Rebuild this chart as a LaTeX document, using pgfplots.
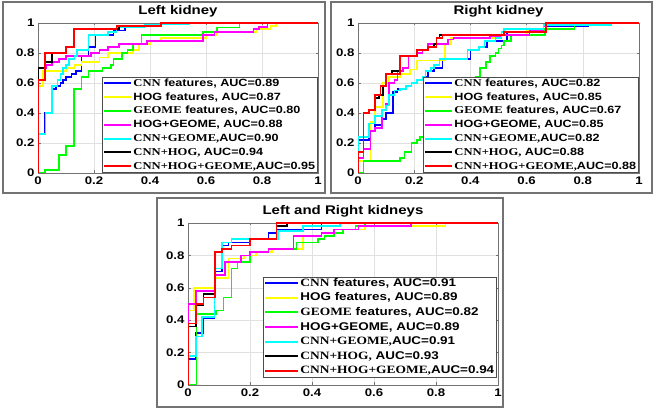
\documentclass[border=0pt]{standalone}
\usepackage{fontspec}
\setmainfont{Liberation Sans}[FakeStretch=1.2]
\newfontfamily\tnr{Liberation Serif}[FakeStretch=1.2]
\usepackage{pgfplots}
\pgfplotsset{compat=1.18}

\definecolor{mblue}{rgb}{0,0,1}
\definecolor{myellow}{rgb}{1,1,0}
\definecolor{mgreen}{rgb}{0,1,0}
\definecolor{mmagenta}{rgb}{1,0,1}
\definecolor{mcyan}{rgb}{0,1,1}
\definecolor{mred}{rgb}{1,0,0}

\pgfplotsset{
  roc/.style={
    scale only axis, anchor=south west,
    xmin=0, xmax=1, ymin=0, ymax=1,
    xtick={0,0.2,0.4,0.6,0.8,1}, ytick={0,0.2,0.4,0.6,0.8,1},
    grid=major, grid style={black!12, line width=0.4pt},
    axis line style={black!55, line width=0.5pt},
    tick style={black!55, line width=0.4pt},
    tick align=inside, major tick length=2.5pt,
    /pgf/number format/assume math mode=true,
    ticklabel style={font=\bfseries\fontsize{11}{12}\selectfont},
    title style={at={(0.5,1)}, anchor=base, yshift=2.5pt, inner sep=0pt,
      font=\bfseries\fontsize{12.5}{14}\selectfont},
    every axis plot/.append style={const plot, line width=1.6pt, mark=none},
    legend cell align=left,
    legend style={at={(1,0)}, anchor=south east, draw=black!70, line width=0.7pt,
      fill=white, inner sep=1pt, row sep=3.4pt,
      font=\bfseries\fontsize{10.5}{12}\selectfont,
      nodes={inner ysep=0pt, inner xsep=1.5pt, text height=7.8pt, text depth=2.6pt}},
    legend image code/.code={\draw[#1, line width=2pt] (0pt,0.3pt) -- (27pt,0.3pt);},
  }
}

\begin{document}
\begin{tikzpicture}
\useasboundingbox (0pt,0pt) rectangle (656pt,411pt);
\fill[white] (0pt,0pt) rectangle (656pt,411pt);
\draw[black!55, line width=2pt] (3pt,218pt) rectangle (325pt,409pt);
\draw[black!55, line width=2pt] (331pt,218pt) rectangle (652pt,409pt);
\draw[black!55, line width=2pt] (157pt,4pt) rectangle (503pt,213pt);

% ---------------- Left kidney
\begin{axis}[roc, at={(38pt,238pt)}, width=280pt, height=150pt, title={Left kidney}]
\addplot[mblue] coordinates {(0,0) (0,0.26) (0.024,0.40) (0.05,0.56) (0.065,0.58) (0.08,0.60) (0.09,0.62) (0.10,0.64) (0.12,0.66) (0.135,0.68) (0.155,0.78) (0.18,0.84) (0.205,0.92) (0.27,0.95) (0.31,0.98) (0.44,1) (1,1)};
\addlegendentry{{\tnr CNN} features, AUC=0.89}
\addplot[myellow] coordinates {(0,0) (0,0.58) (0.018,0.68) (0.10,0.70) (0.13,0.72) (0.155,0.74) (0.22,0.77) (0.25,0.80) (0.34,0.82) (0.36,0.86) (0.40,0.88) (0.44,0.90) (0.60,0.92) (0.64,0.94) (0.78,0.96) (0.83,0.98) (0.85,1) (1,1)};
\addlegendentry{HOG features, AUC=0.87}
\addplot[mgreen] coordinates {(0,0) (0.025,0.02) (0.076,0.12) (0.10,0.18) (0.128,0.56) (0.156,0.64) (0.18,0.68) (0.23,0.70) (0.26,0.72) (0.27,0.76) (0.30,0.80) (0.32,0.82) (0.34,0.86) (0.37,0.92) (0.59,0.94) (0.64,0.97) (0.72,1) (1,1)};
\addlegendentry{{\tnr GEOME} features, AUC=0.80}
\addplot[mmagenta] coordinates {(0,0) (0,0.70) (0.03,0.72) (0.05,0.74) (0.075,0.76) (0.10,0.78) (0.19,0.80) (0.22,0.82) (0.25,0.84) (0.29,0.86) (0.39,0.88) (0.59,0.92) (0.63,0.94) (0.77,0.96) (0.79,0.975) (0.82,1) (1,1)};
\addlegendentry{HOG+GEOME, AUC=0.88}
\addplot[mcyan] coordinates {(0,0) (0,0.26) (0.027,0.40) (0.05,0.58) (0.07,0.62) (0.08,0.66) (0.09,0.70) (0.10,0.72) (0.11,0.76) (0.13,0.78) (0.14,0.82) (0.18,0.92) (0.25,0.94) (0.28,0.97) (0.38,0.99) (0.54,1) (1,1)};
\addlegendentry{{\tnr CNN+GEOME,}AUC=0.90}
\addplot[black] coordinates {(0,0) (0,0.70) (0.024,0.74) (0.05,0.80) (0.10,0.84) (0.128,0.96) (0.29,0.98) (0.44,1) (1,1)};
\addlegendentry{{\tnr CNN+HOG,} AUC=0.94}
\addplot[mred] coordinates {(0,0) (0,0.62) (0.024,0.80) (0.10,0.84) (0.128,0.96) (0.28,0.98) (0.44,1) (1,1)};
\addlegendentry{{\tnr CNN+HOG+GEOME,}AUC=0.95}
\end{axis}

% ---------------- Right kidney
\begin{axis}[roc, at={(358pt,238pt)}, width=281pt, height=150pt, title={Right kidney}]
\addplot[mblue] coordinates {(0,0) (0,0.22) (0.04,0.28) (0.06,0.32) (0.085,0.36) (0.10,0.40) (0.125,0.54) (0.14,0.56) (0.17,0.58) (0.19,0.60) (0.21,0.62) (0.23,0.64) (0.25,0.68) (0.27,0.70) (0.30,0.76) (0.40,0.82) (0.43,0.84) (0.46,0.88) (0.53,0.94) (0.66,0.98) (0.82,1) (1,1)};
\addlegendentry{{\tnr CNN} features, AUC=0.82}
\addplot[myellow] coordinates {(0,0) (0,0.08) (0.045,0.34) (0.06,0.44) (0.09,0.60) (0.11,0.64) (0.15,0.66) (0.185,0.69) (0.21,0.75) (0.31,0.86) (0.33,0.90) (0.50,0.92) (0.60,0.95) (0.66,0.98) (0.67,1) (1,1)};
\addlegendentry{HOG features, AUC=0.85}
\addplot[mgreen] coordinates {(0,0) (0.02,0.08) (0.15,0.10) (0.165,0.14) (0.19,0.20) (0.21,0.22) (0.22,0.24) (0.26,0.30) (0.30,0.36) (0.34,0.44) (0.38,0.52) (0.41,0.60) (0.42,0.64) (0.435,0.70) (0.455,0.74) (0.47,0.78) (0.49,0.80) (0.50,0.83) (0.51,0.85) (0.52,0.88) (0.545,0.92) (0.665,0.96) (0.77,0.99) (0.80,1) (1,1)};
\addlegendentry{{\tnr GEOME} features, AUC=0.67}
\addplot[mmagenta] coordinates {(0,0) (0,0.10) (0.02,0.16) (0.045,0.28) (0.06,0.30) (0.085,0.42) (0.10,0.46) (0.11,0.60) (0.13,0.62) (0.14,0.68) (0.16,0.70) (0.18,0.78) (0.21,0.80) (0.23,0.82) (0.25,0.86) (0.32,0.89) (0.34,0.90) (0.47,0.91) (0.51,0.92) (0.61,0.95) (0.66,0.98) (0.67,1) (1,1)};
\addlegendentry{HOG+GEOME, AUC=0.85}
\addplot[mcyan] coordinates {(0,0) (0,0.24) (0.04,0.33) (0.06,0.38) (0.085,0.42) (0.10,0.45) (0.11,0.52) (0.13,0.55) (0.15,0.56) (0.17,0.58) (0.19,0.60) (0.21,0.62) (0.23,0.64) (0.24,0.68) (0.26,0.70) (0.27,0.72) (0.29,0.76) (0.39,0.82) (0.43,0.84) (0.45,0.88) (0.49,0.90) (0.51,0.94) (0.52,0.96) (0.66,0.985) (0.90,1) (1,1)};
\addlegendentry{{\tnr CNN+GEOME,}AUC=0.82}
\addplot[black] coordinates {(0,0) (0,0.14) (0.02,0.40) (0.04,0.42) (0.06,0.50) (0.075,0.52) (0.09,0.58) (0.10,0.66) (0.12,0.68) (0.15,0.78) (0.21,0.82) (0.25,0.84) (0.27,0.86) (0.28,0.90) (0.29,0.92) (0.52,0.94) (0.67,1) (1,1)};
\addlegendentry{{\tnr CNN+HOG,} AUC=0.88}
\addplot[mred] coordinates {(0,0) (0,0.14) (0.02,0.40) (0.04,0.42) (0.06,0.52) (0.08,0.58) (0.10,0.66) (0.15,0.78) (0.21,0.82) (0.25,0.84) (0.28,0.90) (0.30,0.92) (0.52,0.94) (0.67,1) (1,1)};
\addlegendentry{{\tnr CNN+HOG+GEOME,}AUC=0.88}
\end{axis}

% ---------------- Left and Right kidneys
\begin{axis}[roc, at={(188pt,26pt)}, width=310pt, height=162pt, title={Left and Right kidneys},
  legend style={at={(0.997,0.043)}, row sep=3.6pt, font=\bfseries\fontsize{11.2}{12}\selectfont,
    nodes={text height=8.2pt, text depth=2.8pt}},
  legend image code/.code={\draw[#1, line width=2pt] (0pt,0.3pt) -- (33pt,0.3pt);}]
\addplot[mblue] coordinates {(0,0) (0,0.16) (0.025,0.32) (0.05,0.41) (0.085,0.70) (0.11,0.86) (0.13,0.88) (0.20,0.90) (0.26,0.94) (0.29,0.96) (0.43,1) (1,1)};
\addlegendentry{{\tnr CNN} features, AUC=0.91}
\addplot[myellow] coordinates {(0,0) (0,0.46) (0.02,0.60) (0.085,0.66) (0.13,0.78) (0.18,0.80) (0.22,0.82) (0.27,0.84) (0.37,0.92) (0.43,0.94) (0.50,0.96) (0.57,0.98) (0.83,1) (1,1)};
\addlegendentry{HOG features, AUC=0.89}
\addplot[mgreen] coordinates {(0,0) (0.028,0.44) (0.09,0.46) (0.115,0.54) (0.14,0.72) (0.16,0.76) (0.20,0.82) (0.26,0.84) (0.35,0.88) (0.42,0.90) (0.44,0.92) (0.47,0.94) (0.50,0.96) (0.54,0.98) (0.57,1) (1,1)};
\addlegendentry{{\tnr GEOME} features, AUC=0.82}
\addplot[mmagenta] coordinates {(0,0) (0,0.50) (0.025,0.58) (0.087,0.68) (0.12,0.76) (0.17,0.80) (0.20,0.82) (0.26,0.84) (0.34,0.92) (0.43,0.94) (0.47,0.96) (0.55,0.98) (0.72,1) (1,1)};
\addlegendentry{HOG+GEOME, AUC=0.89}
\addplot[mcyan] coordinates {(0,0) (0,0.18) (0.025,0.30) (0.045,0.42) (0.085,0.72) (0.11,0.88) (0.14,0.90) (0.29,0.95) (0.37,0.98) (0.49,1) (1,1)};
\addlegendentry{{\tnr CNN+GEOME,}AUC=0.91}
\addplot[black] coordinates {(0,0) (0,0.36) (0.025,0.49) (0.05,0.56) (0.087,0.82) (0.11,0.84) (0.14,0.86) (0.20,0.90) (0.285,0.98) (0.32,1) (1,1)};
\addlegendentry{{\tnr CNN+HOG,} AUC=0.93}
\addplot[mred] coordinates {(0,0) (0,0.38) (0.025,0.50) (0.05,0.54) (0.087,0.82) (0.11,0.84) (0.14,0.86) (0.20,0.90) (0.285,1) (1,1)};
\addlegendentry{{\tnr CNN+HOG+GEOME,}AUC=0.94}
\end{axis}
\end{tikzpicture}
\end{document}
